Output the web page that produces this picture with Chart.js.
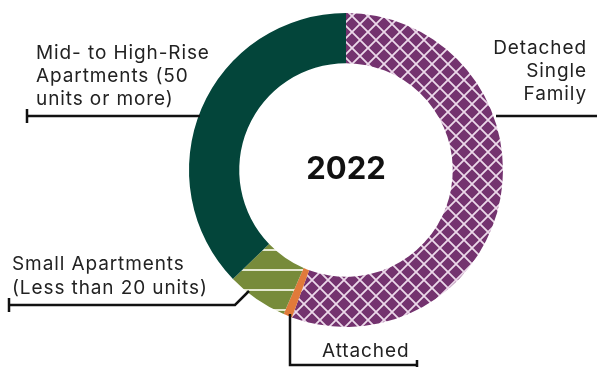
<!DOCTYPE html>
<html>
<head>
<meta charset="utf-8">
<script src="https://cdn.jsdelivr.net/npm/chart.js@4"></script>
<style>
  html, body { margin: 0; padding: 0; background: #fff; }
  #wrap { width: 597px; height: 368px; position: relative; }
</style>
</head>
<body>
<div id="wrap"><canvas id="c" width="597" height="368"></canvas></div>
<script>
const categories = ['Detached Single Family', 'Attached', 'Small Apartments (Less than 20 units)', 'Mid- to High-Rise Apartments (50 units or more)']
const shares = [55.6, 0.9, 6.3, 37.2]
const yearLabel = '2022'

const FONT = 'Inter, "Noto Sans", sans-serif'

function crossHatch() {
  const s = 16
  const c = document.createElement('canvas')
  c.width = s; c.height = s
  const g = c.getContext('2d')
  g.fillStyle = '#74336f'
  g.fillRect(0, 0, s, s)
  g.strokeStyle = '#ecd9ea'
  g.lineWidth = 1.8
  g.beginPath()
  g.moveTo(-2, -2); g.lineTo(s + 2, s + 2)
  g.moveTo(s + 2, -2); g.lineTo(-2, s + 2)
  g.stroke()
  return g.createPattern(c, 'repeat')
}

function stripes() {
  const s = 20
  const c = document.createElement('canvas')
  c.width = s; c.height = s
  const g = c.getContext('2d')
  g.fillStyle = '#778b3a'
  g.fillRect(0, 0, s, s)
  g.fillStyle = '#e4e8cf'
  g.fillRect(0, 9, s, 2)
  return g.createPattern(c, 'repeat')
}

// labels + leader lines
const callouts = {
  id: 'callouts',
  afterDraw(chart) {
    const ctx = chart.ctx
    const arc = chart.getDatasetMeta(0).data[0]
    const cx = arc.x, cy = arc.y
    ctx.save()
    ctx.fillStyle = '#111'
    ctx.textBaseline = 'middle'
    ctx.font = 'bold 31px ' + FONT
    ctx.textAlign = 'center'
    ctx.fillText(yearLabel, cx, cy)

    ctx.textBaseline = 'alphabetic'
    ctx.font = '19px ' + FONT
    ctx.letterSpacing = '0.9px'
    ctx.fillStyle = '#222'
    ctx.textAlign = 'left'
    ;['Mid- to High-Rise', 'Apartments (50', 'units or more)'].forEach((t, i) => ctx.fillText(t, 36, 59 + i * 23))
    ;['Small Apartments', '(Less than 20 units)'].forEach((t, i) => ctx.fillText(t, 12, 270 + i * 24))
    ctx.fillText('Attached', 322, 357)
    ctx.textAlign = 'right'
    ;['Detached', 'Single', 'Family'].forEach((t, i) => ctx.fillText(t, 587, 54 + i * 23))

    ctx.strokeStyle = '#111'
    ctx.lineWidth = 2.5
    ctx.beginPath()
    // mid-high
    ctx.moveTo(27, 116); ctx.lineTo(200, 116)
    ctx.moveTo(27, 109); ctx.lineTo(27, 123)
    // detached
    ctx.moveTo(496, 116); ctx.lineTo(597, 116)
    // small apts
    ctx.moveTo(9, 305); ctx.lineTo(235, 305); ctx.lineTo(249, 291)
    ctx.moveTo(9, 298); ctx.lineTo(9, 312)
    // attached
    ctx.moveTo(290, 314); ctx.lineTo(290, 365); ctx.lineTo(417, 365)
    ctx.moveTo(417, 360); ctx.lineTo(417, 367)
    ctx.stroke()
    ctx.restore()
  }
}

new Chart(document.getElementById('c'), {
  type: 'doughnut',
  data: {
    labels: categories,
    datasets: [{
      data: shares,
      backgroundColor: [crossHatch(), '#e07a3a', stripes(), '#03453a'],
      borderWidth: 0,
      hoverOffset: 0
    }]
  },
  options: {
    responsive: false,
    animation: false,
    cutout: '68%',
    layout: { padding: { top: 13, bottom: 41, left: 100, right: 5 } },
    plugins: {
      legend: { display: false },
      tooltip: { enabled: false }
    }
  },
  plugins: [callouts]
})
</script>
</body>
</html>
